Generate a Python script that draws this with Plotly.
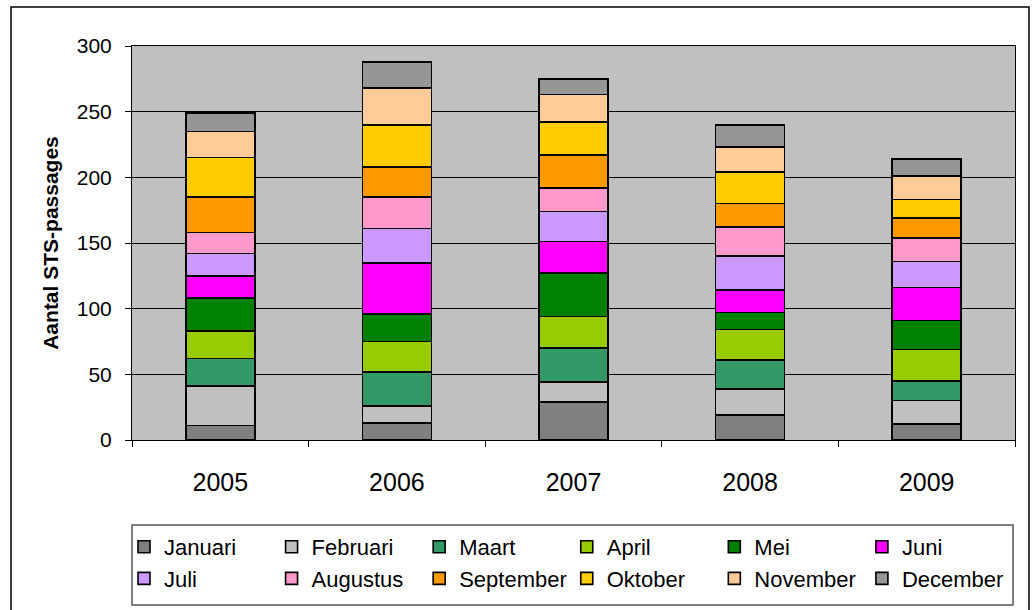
import plotly.graph_objects as go

years = ["2005", "2006", "2007", "2008", "2009"]
months = ["Januari", "Februari", "Maart", "April", "Mei", "Juni",
          "Juli", "Augustus", "September", "Oktober", "November", "December"]

januari = [11, 13, 29, 19, 12]
februari = [30, 13, 15, 20, 18]
maart = [21, 26, 26, 22, 15]
april = [21, 23, 24, 23, 24]
mei = [25, 21, 33, 13, 22]
juni = [17, 39, 24, 17, 25]
juli = [17, 26, 23, 26, 20]
augustus = [16, 24, 18, 22, 18]
september = [27, 23, 25, 18, 15]
oktober = [30, 32, 25, 24, 14]
november = [20, 28, 21, 19, 18]
december = [14, 20, 12, 17, 13]

series = [januari, februari, maart, april, mei, juni, juli, augustus,
          september, oktober, november, december]
colors = ["#808080", "#C0C0C0", "#339966", "#99CC00", "#008000", "#FF00FF",
          "#CC99FF", "#FF99CC", "#FF9900", "#FFCC00", "#FFCC99", "#969696"]

y_ticks = [0, 50, 100, 150, 200, 250, 300]

FONT = "Arial, Liberation Sans, sans-serif"

fig = go.Figure()
for name, vals, col in zip(months, series, colors):
    fig.add_trace(go.Bar(
        x=years, y=vals, name=name,
        marker=dict(color=col, line=dict(color="black", width=1.6)),
    ))

W, H = 1033, 610
L, R, T, B = 132, 18, 46, 170
pw, ph = W - L - R, H - T - B


def px_x(p):
    return (p - L) / pw


def px_y(p):
    return (T + ph - p) / ph


fig.update_layout(
    width=W, height=H,
    barmode="stack",
    bargap=0.61,
    paper_bgcolor="white",
    plot_bgcolor="#C0C0C0",
    margin=dict(l=L, r=R, t=T, b=B, pad=0, autoexpand=False),
    font=dict(family=FONT, color="black", size=20),
    showlegend=True,
    legend=dict(
        orientation="h",
        x=px_x(124), xanchor="left",
        y=px_y(526), yanchor="top",
        borderwidth=0,
        bgcolor="rgba(0,0,0,0)",
        font=dict(family=FONT, size=22, color="black"),
        entrywidthmode="fraction", entrywidth=0.1454,
        traceorder="normal",
    ),
    xaxis=dict(
        type="category",
        showline=True, linecolor="black", linewidth=1, mirror=True,
        ticks="outside", ticklen=6, tickcolor="black",
        tickson="boundaries",
        tickfont=dict(family=FONT, size=25, color="black"),
        ticklabelstandoff=20,
        showgrid=False,
    ),
    yaxis=dict(
        range=[0, 300],
        tickvals=y_ticks,
        showline=True, linecolor="black", linewidth=1, mirror=True,
        ticks="outside", ticklen=6, tickcolor="black",
        tickfont=dict(family=FONT, size=21, color="black"),
        ticklabelstandoff=9,
        showgrid=True, gridcolor="black", gridwidth=1,
        zeroline=False,
        title=dict(text="<b>Aantal STS-passages</b>",
                   font=dict(family=FONT, size=21, color="black"),
                   standoff=12),
    ),
    shapes=[
        dict(type="rect", xref="paper", yref="paper",
             x0=px_x(11), x1=px_x(1029), y0=px_y(614), y1=px_y(7),
             line=dict(color="black", width=1.5),
             fillcolor="rgba(0,0,0,0)", layer="below"),
        dict(type="rect", xref="paper", yref="paper",
             x0=px_x(132), x1=px_x(1013), y0=px_y(605), y1=px_y(525),
             line=dict(color="#555555", width=1.5),
             fillcolor="white", layer="below"),
    ],
)

fig.write_html("out.html",
               config={"displayModeBar": False},
               post_script="document.body.style.margin='0px';")
